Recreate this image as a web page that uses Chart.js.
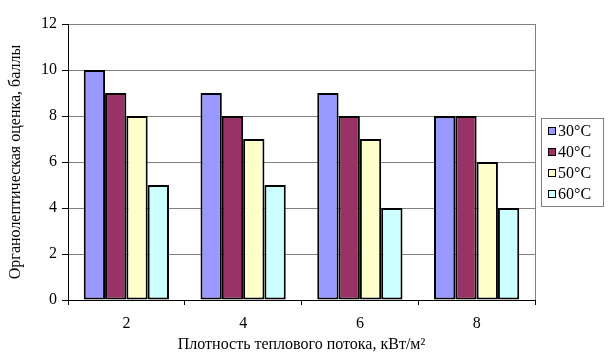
<!DOCTYPE html>
<html lang="ru">
  <head>
    <meta charset="UTF-8" />
    <title>Органолептическая оценка</title>
    <script src="https://cdn.jsdelivr.net/npm/chart.js"></script>
    <style>
      html, body { margin: 0; padding: 0; background: #fff; }
      #wrap { width: 609px; height: 358px; position: relative; }
    </style>
  </head>
  <body>
    <div id="wrap"><canvas id="scoreChart"></canvas></div>

    <script>
      // Chart data
      const categories = ["2", "4", "6", "8"];
      const seriesNames = ["30°C", "40°C", "50°C", "60°C"];
      const t30 = [10, 9, 9, 8];
      const t40 = [9, 8, 8, 8];
      const t50 = [8, 7, 7, 6];
      const t60 = [5, 5, 4, 4];
      const yTicks = [0, 2, 4, 6, 8, 10, 12];

      const colors = ["#9999FF", "#993366", "#FFFFCC", "#CCFFFF"];
      const FONT = "'Liberation Serif', 'Times New Roman', serif";

      // Legend box with a gray border, drawn from the dataset list
      const boxLegend = {
        id: "boxLegend",
        afterDraw(chart) {
          const ctx = chart.ctx;
          const x = 541, y = 118, w = 62, h = 88;
          ctx.save();
          ctx.fillStyle = "#fff";
          ctx.fillRect(x, y, w, h);
          ctx.strokeStyle = "#808080";
          ctx.lineWidth = 1;
          ctx.strokeRect(x + 0.5, y + 0.5, w, h);
          ctx.font = "16px " + FONT;
          ctx.textBaseline = "middle";
          chart.data.datasets.forEach((ds, i) => {
            const cy = y + 13 + i * 21;
            ctx.fillStyle = ds.backgroundColor;
            ctx.fillRect(x + 7, cy - 4, 8, 8);
            ctx.strokeStyle = "#000";
            ctx.strokeRect(x + 7.5, cy - 3.5, 7, 7);
            ctx.fillStyle = "#000";
            ctx.fillText(ds.label, x + 17, cy + 1);
          });
          ctx.restore();
        },
      };

      // Gray frame on the right side of the plot
      const rightFrame = {
        id: "rightFrame",
        afterDatasetsDraw(chart) {
          const a = chart.chartArea;
          const ctx = chart.ctx;
          ctx.save();
          ctx.strokeStyle = "#808080";
          ctx.lineWidth = 1;
          ctx.beginPath();
          ctx.moveTo(a.right + 0.5, a.top);
          ctx.lineTo(a.right + 0.5, a.bottom);
          ctx.stroke();
          ctx.restore();
        },
      };

      const datasets = [t30, t40, t50, t60].map((vals, i) => ({
        label: seriesNames[i],
        data: vals,
        backgroundColor: colors[i],
        borderColor: "#000",
        borderWidth: 2,
        borderSkipped: false,
        categoryPercentage: 0.73,
        barPercentage: 1.0,
      }));

      new Chart(document.getElementById("scoreChart"), {
        type: "bar",
        data: { labels: categories, datasets: datasets },
        options: {
          responsive: true,
          maintainAspectRatio: false,
          animation: false,
          layout: { padding: { top: 24, right: 74, left: 0, bottom: 0 } },
          plugins: {
            legend: { display: false },
            tooltip: { enabled: false },
          },
          scales: {
            x: {
              grid: {
                offset: true,
                drawOnChartArea: false,
                drawTicks: true,
                tickLength: 5,
                color: "#000",
              },
              border: { color: "#000", width: 1 },
              ticks: {
                color: "#000",
                font: { family: FONT, size: 16 },
                padding: 9,
              },
              title: {
                display: true,
                text: "Плотность теплового потока, кВт/м²",
                color: "#000",
                font: { family: FONT, size: 16 },
                padding: { top: 0, bottom: 4 },
              },
              afterFit(scale) {
                scale.height = 58;
              },
            },
            y: {
              min: 0,
              max: 12,
              afterBuildTicks(scale) {
                scale.ticks = yTicks.map((v) => ({ value: v }));
              },
              grid: {
                color: "#808080",
                tickColor: "#000",
                tickLength: 6,
              },
              border: { color: "#000", width: 1 },
              ticks: {
                color: "#000",
                font: { family: FONT, size: 16 },
                padding: 5,
              },
              title: {
                display: true,
                text: "Органолептическая оценка, баллы",
                color: "#000",
                font: { family: FONT, size: 16 },
                padding: { top: 6, bottom: 0 },
              },
              afterFit(scale) {
                scale.width = 68;
              },
            },
          },
        },
        plugins: [rightFrame, boxLegend],
      });
    </script>
  </body>
</html>
